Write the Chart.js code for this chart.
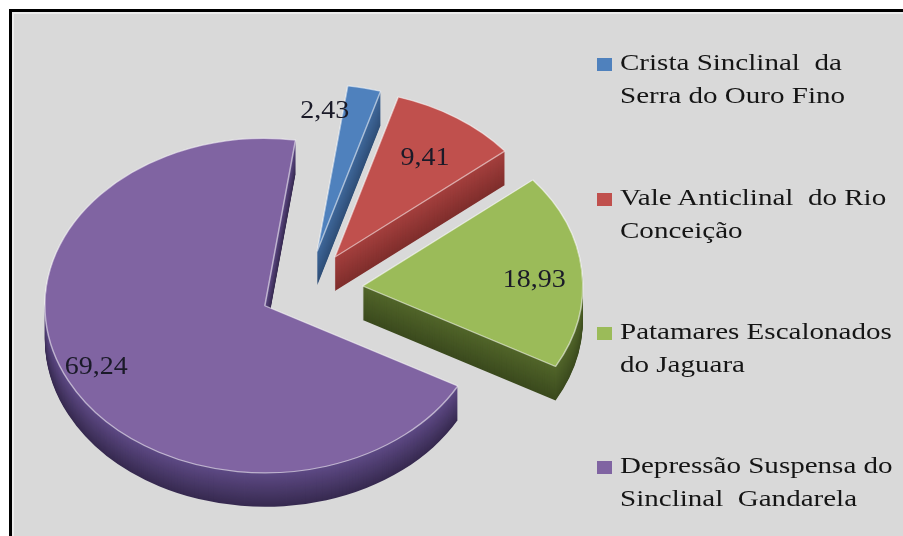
<!DOCTYPE html>
<html><head><meta charset="utf-8">
<script src="https://cdn.jsdelivr.net/npm/chart.js@4/dist/chart.umd.min.js"></script>
<style>
html,body{margin:0;padding:0;background:#fff;width:903px;height:536px;overflow:hidden;}
#frame{position:absolute;left:9px;top:9px;width:894px;height:527px;background:#d9d9d9;border-left:3px solid #000;border-top:3px solid #000;box-shadow:inset 2px 2px 0 #ececec;}
#c{position:absolute;left:0;top:0;}
.leg{position:absolute;left:0;top:0;font-family:"Liberation Serif","Times New Roman",serif;font-size:24px;line-height:33px;color:#151515;white-space:pre;}
.sw{position:absolute;width:15px;height:13px;}
.lt{position:absolute;transform:scaleX(1.21);transform-origin:0 0;}
</style></head><body>
<div id="frame"></div>
<canvas id="c" width="903" height="536"></canvas>
<div id="legend"></div>
<script>
// ---- data ----
const categories = [
  ["Crista Sinclinal  da", "Serra do Ouro Fino"],
  ["Vale Anticlinal  do Rio", "Conceição"],
  ["Patamares Escalonados", "do Jaguara"],
  ["Depressão Suspensa do", "Sinclinal  Gandarela"]
];
const values = [2.43, 9.41, 18.93, 69.24];

// ---- style ----
const topColors = ["#4f81bd", "#c0504d", "#9bbb59", "#8064a2"];
const sideTop = ["#40699c", "#a5403e", "#52662a", "#5f4b86"];
const sideBottom = ["#2f4f78", "#7f2e2c", "#3b4a1e", "#372a50"];
const S = 0.76, DEPTH = 34;
const explode = [52, 52, 57, 46];
const labelRadius = [0.84, 0.72, 0.78, 0.85];
const labelShift = [-10, 1, 3, 1];
const legendBaselines = [71, 206, 340, 474];

function hex(c){return [parseInt(c.substr(1,2),16),parseInt(c.substr(3,2),16),parseInt(c.substr(5,2),16)];}
function lerp(c1,c2,t){const a=hex(c1),b=hex(c2);return 'rgb('+a.map((v,k)=>Math.round(v+(b[k]-v)*t)).join(',')+')';}
function fmt(v){return v.toFixed(2).replace('.', ',');}

const pie3d = {
  id: 'pie3d',
  beforeDatasetsDraw(chart){
    const ctx = chart.ctx;
    const els = chart.getDatasetMeta(0).data;
    const cy = els[0].y;
    ctx.save();
    ctx.translate(0, cy*(1-S));
    ctx.scale(1, S);
    els.forEach((el, i) => {
      const a = (el.startAngle + el.endAngle)/2;
      const dx = Math.cos(a)*explode[i], dy = Math.sin(a)*explode[i];
      const o = el.options;
      const bg = o.backgroundColor, bc = o.borderColor, bw = o.borderWidth;
      for (let d = DEPTH; d >= 1; d--) {
        ctx.save();
        ctx.translate(dx, dy + d/S);
        const col = lerp(sideTop[i], sideBottom[i], d/DEPTH);
        o.backgroundColor = col; o.borderColor = col; o.borderWidth = 0;
        el.draw(ctx);
        ctx.restore();
      }
      o.backgroundColor = bg; o.borderColor = bc; o.borderWidth = bw;
      ctx.save(); ctx.translate(dx, dy); el.draw(ctx); ctx.restore();
    });
    ctx.restore();
    return false;
  },
  afterDraw(chart){
    const ctx = chart.ctx;
    const els = chart.getDatasetMeta(0).data;
    const cy = els[0].y;
    ctx.save();
    ctx.font = '25px "Liberation Serif"';
    ctx.fillStyle = '#1a1a28';
    ctx.textAlign = 'center';
    ctx.textBaseline = 'middle';
    els.forEach((el, i) => {
      const a = (el.startAngle + el.endAngle)/2;
      const ax = el.x + Math.cos(a)*explode[i], ay = el.y + Math.sin(a)*explode[i];
      const b = a + labelShift[i]*Math.PI/180;
      const px = ax + Math.cos(b)*labelRadius[i]*el.outerRadius;
      const py = ay + Math.sin(b)*labelRadius[i]*el.outerRadius;
      const sy = cy + (py - cy)*S;
      ctx.save(); ctx.translate(px, sy); ctx.scale(1.12, 1);
      ctx.fillText(fmt(values[i]), 0, 0);
      ctx.restore();
    });
    ctx.restore();
  }
};

new Chart(document.getElementById('c'), {
  type: 'pie',
  data: {
    labels: categories.map(l => l.join(' ')),
    datasets: [{
      data: values,
      backgroundColor: topColors,
      borderColor: 'rgba(255,255,255,0.55)',
      borderWidth: 1.5,
      clip: false
    }]
  },
  options: {
    responsive: false,
    animation: false,
    events: [],
    rotation: 8,
    radius: 220,
    layout: {padding: {left: 0, right: 291, top: 44, bottom: 0}},
    plugins: {legend: {display: false}, tooltip: {enabled: false}}
  },
  plugins: [pie3d]
});

// legend
const leg = document.getElementById('legend');
categories.forEach((lines, i) => {
  const base = legendBaselines[i];
  const sw = document.createElement('div');
  sw.className = 'sw';
  sw.style.left = '597px'; sw.style.top = (base - 13) + 'px';
  sw.style.background = topColors[i];
  leg.appendChild(sw);
  const t = document.createElement('div');
  t.className = 'leg lt';
  t.style.left = '620px'; t.style.top = (base - 24.6) + 'px';
  t.textContent = lines.join('\n');
  leg.appendChild(t);
});
</script>
</body></html>
